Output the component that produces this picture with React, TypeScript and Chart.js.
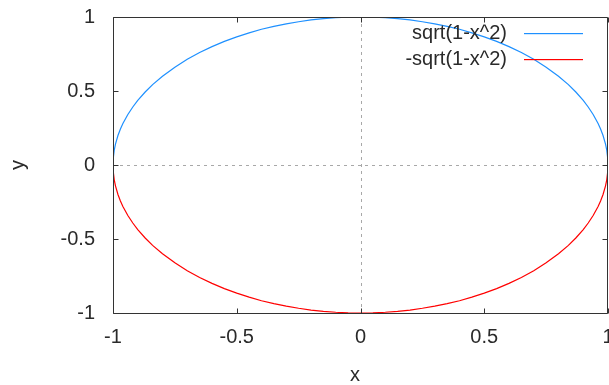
import React, { useEffect, useRef } from "react";
import { Chart, registerables } from "chart.js";

Chart.register(...registerables);

// x samples and the two curves' y values
const xValues = [
  -1, -0.999, -0.995, -0.99, -0.98, -0.97, -0.96, -0.94, -0.92, -0.9, -0.87, -0.84, -0.8, -0.75, -0.7, -0.65, -0.6,
  -0.55, -0.5, -0.45, -0.4, -0.35, -0.3, -0.25, -0.2, -0.15, -0.1, -0.05, 0,
  0.05, 0.1, 0.15, 0.2, 0.25, 0.3, 0.35, 0.4, 0.45, 0.5, 0.55, 0.6, 0.65, 0.7, 0.75, 0.8, 0.84, 0.87, 0.9, 0.92,
  0.94, 0.96, 0.97, 0.98, 0.99, 0.995, 0.999, 1,
];
const upperY = [
  0, 0.045, 0.1, 0.141, 0.199, 0.243, 0.28, 0.341, 0.392, 0.436, 0.493, 0.543, 0.6, 0.661, 0.714, 0.76, 0.8,
  0.835, 0.866, 0.893, 0.917, 0.937, 0.954, 0.968, 0.98, 0.989, 0.995, 0.999, 1,
  0.999, 0.995, 0.989, 0.98, 0.968, 0.954, 0.937, 0.917, 0.893, 0.866, 0.835, 0.8, 0.76, 0.714, 0.661, 0.6, 0.543, 0.493, 0.436, 0.392,
  0.341, 0.28, 0.243, 0.199, 0.141, 0.1, 0.045, 0,
];
const lowerY = [
  0, -0.045, -0.1, -0.141, -0.199, -0.243, -0.28, -0.341, -0.392, -0.436, -0.493, -0.543, -0.6, -0.661, -0.714, -0.76, -0.8,
  -0.835, -0.866, -0.893, -0.917, -0.937, -0.954, -0.968, -0.98, -0.989, -0.995, -0.999, -1,
  -0.999, -0.995, -0.989, -0.98, -0.968, -0.954, -0.937, -0.917, -0.893, -0.866, -0.835, -0.8, -0.76, -0.714, -0.661, -0.6, -0.543, -0.493, -0.436, -0.392,
  -0.341, -0.28, -0.243, -0.199, -0.141, -0.1, -0.045, 0,
];
const seriesLabels = ["sqrt(1-x^2)", "-sqrt(1-x^2)"];
const seriesColors = ["#1e90ff", "#ff0000"];
const xTicks = [-1, -0.5, 0, 0.5, 1];
const yTicks = [-1, -0.5, 0, 0.5, 1];
const xTitle = "x";
const yTitle = "y";

const FAMILY = "'Liberation Sans', Arial, sans-serif";
const FONT = "20px " + FAMILY;
const TEXT = "#2a2a2a";

const framePlugin = {
  id: "gnuframe",
  beforeDatasetsDraw(chart: any) {
    const { ctx, chartArea: a, scales } = chart;
    ctx.save();
    // dotted zero axes
    ctx.strokeStyle = "#a8a8a8";
    ctx.lineWidth = 1;
    ctx.setLineDash([3, 4]);
    const x0 = Math.round(scales.x.getPixelForValue(0)) + 0.5;
    const y0 = Math.round(scales.y.getPixelForValue(0)) + 0.5;
    ctx.beginPath();
    ctx.moveTo(a.left, y0);
    ctx.lineTo(a.right, y0);
    ctx.moveTo(x0, a.top);
    ctx.lineTo(x0, a.bottom);
    ctx.stroke();
    ctx.restore();
  },
  afterDatasetsDraw(chart: any) {
    const { ctx, chartArea: a, scales } = chart;
    ctx.save();
    ctx.strokeStyle = "#333";
    ctx.lineWidth = 1;
    ctx.setLineDash([]);
    const L = Math.round(a.left) + 0.5;
    const R = Math.round(a.right) - 0.5;
    const T = Math.round(a.top) + 0.5;
    const B = Math.round(a.bottom) + 0.5;
    ctx.beginPath();
    ctx.rect(L, T, R - L, B - T);
    const tl = 5;
    xTicks.forEach((v) => {
      const px = Math.round(scales.x.getPixelForValue(v)) + 0.5;
      ctx.moveTo(px, B);
      ctx.lineTo(px, B - tl);
      ctx.moveTo(px, T);
      ctx.lineTo(px, T + tl);
    });
    yTicks.forEach((v) => {
      const py = Math.round(scales.y.getPixelForValue(v)) + 0.5;
      ctx.moveTo(L, py);
      ctx.lineTo(L + tl, py);
      ctx.moveTo(R, py);
      ctx.lineTo(R - tl, py);
    });
    ctx.stroke();
    ctx.restore();

    // legend
    seriesLabels.forEach((lab, i) => {
      const y = 33 + i * 26;
      ctx.save();
      ctx.font = FONT;
      ctx.textBaseline = "middle";
      ctx.textAlign = "right";
      ctx.fillStyle = TEXT;
      ctx.fillText(lab, 507, y);
      ctx.fillStyle = seriesColors[i];
      ctx.fillRect(524, y, 59, 1.2);
      ctx.restore();
    });

    // axis titles
    ctx.save();
    ctx.font = FONT;
    ctx.textBaseline = "middle";
    ctx.fillStyle = TEXT;
    ctx.textAlign = "center";
    ctx.fillText(xTitle, 355, 375);
    ctx.translate(18, 165);
    ctx.rotate(-Math.PI / 2);
    ctx.fillText(yTitle, 0, 0);
    ctx.restore();
  },
};

export default function App() {
  const ref = useRef<HTMLCanvasElement>(null);
  useEffect(() => {
    if (!ref.current) return;
    const mk = (ys: number[]) => xValues.map((x, i) => ({ x, y: ys[i] }));
    const chart = new Chart(ref.current, {
      type: "scatter",
      data: {
        datasets: [
          {
            label: seriesLabels[0],
            data: mk(upperY),
            showLine: true,
            borderColor: seriesColors[0],
            borderWidth: 1.2,
            pointRadius: 0,
            tension: 0,
          },
          {
            label: seriesLabels[1],
            data: mk(lowerY),
            showLine: true,
            borderColor: seriesColors[1],
            borderWidth: 1.2,
            pointRadius: 0,
            tension: 0,
          },
        ],
      },
      options: {
        responsive: false,
        animation: false,
        layout: { padding: { left: 0, top: 17, right: 1, bottom: 0 } },
        plugins: { legend: { display: false }, tooltip: { enabled: false } },
        scales: {
          x: {
            type: "linear",
            min: -1,
            max: 1,
            grid: { display: false, drawTicks: false },
            border: { display: false },
            afterBuildTicks: (s: any) => {
              s.ticks = xTicks.map((v) => ({ value: v }));
            },
            afterFit: (s: any) => {
              s.height = 72;
              s.paddingLeft = 0;
              s.paddingRight = 0;
            },
            ticks: {
              padding: 12,
              maxRotation: 0,
              autoSkip: false,
              color: TEXT,
              font: { family: FAMILY, size: 20 },
              callback: (v: any) => String(v),
            },
          },
          y: {
            type: "linear",
            min: -1,
            max: 1,
            grid: { display: false, drawTicks: false },
            border: { display: false },
            afterBuildTicks: (s: any) => {
              s.ticks = yTicks.map((v) => ({ value: v }));
            },
            afterFit: (s: any) => {
              s.width = 113;
              s.paddingTop = 0;
              s.paddingBottom = 0;
            },
            ticks: {
              padding: 18,
              autoSkip: false,
              color: TEXT,
              font: { family: FAMILY, size: 20 },
              callback: (v: any) => String(v),
            },
          },
        },
      },
      plugins: [framePlugin],
    });
    return () => chart.destroy();
  }, []);
  return (
    <div style={{ position: "fixed", left: 0, top: 0, width: 609, height: 385, background: "#fff" }}>
      <canvas ref={ref} width={609} height={385} style={{ display: "block" }} />
    </div>
  );
}
